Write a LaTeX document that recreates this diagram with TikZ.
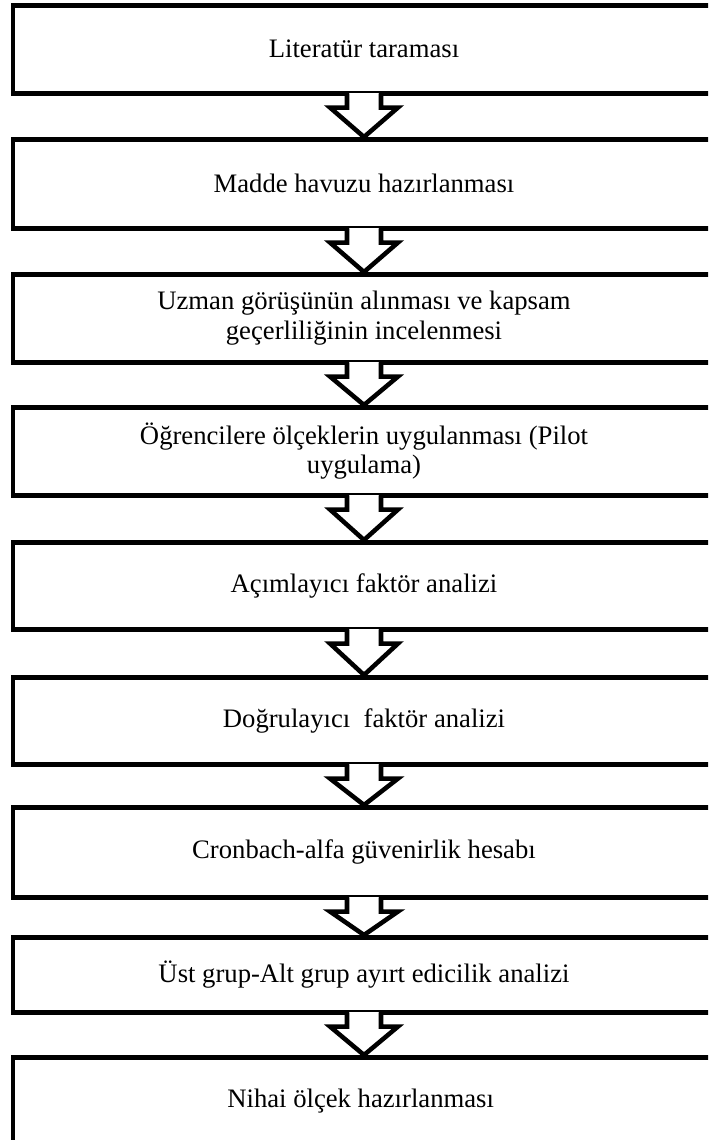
\documentclass[tikz,border=0pt]{standalone}
\usepackage{fontspec}
\setmainfont{Liberation Serif}
\usetikzlibrary{calc}

\tikzset{
  box/.style={draw, line width=3.4pt, minimum width=526.5pt, align=center,
    inner sep=0pt, font=\fontsize{20}{22}\selectfont},
  arrowline/.style={line width=3.4pt}
}

\begin{document}
\begin{tikzpicture}[x=0.75pt,y=0.75pt]
    \clip (0,0) rectangle (708,-1140);
    \foreach \nm/\ytop/\hgt/\lab in {
      lit/3/88/{Literatür taraması},
      madde/137/89/{Madde havuzu hazırlanması},
      uzman/272/88/{Uzman görüşünün alınması ve kapsam\\geçerliliğinin incelenmesi},
      pilot/405/88/{Öğrencilere ölçeklerin uygulanması (Pilot\\uygulama)},
      afa/540/87/{Açımlayıcı faktör analizi},
      dfa/675/87/{Doğrulayıcı\ \ faktör analizi},
      cronbach/805/90/{Cronbach-alfa güvenirlik hesabı},
      ayirt/935/75/{Üst grup-Alt grup ayırt edicilik analizi},
      nihai/1055/88/{Nihai ölçek hazırlanması}
    }{
      \node[box, anchor=north, minimum height=\hgt*0.75pt] (\nm) at (364,-\ytop) {\lab};
    }
    % hollow block arrows between the boxes
    \foreach \src/\dst in {lit/madde, madde/uzman, uzman/pilot, pilot/afa,
      afa/dfa, dfa/cronbach, cronbach/ayirt, ayirt/nihai}{
      \fill[white] ($(\src.south)+(-15,3)$) rectangle ($(\src.south)+(15,-12)$);
      \draw[arrowline] ($(\src.south)+(-17,2.25)$) -- ++(0,-14.25) -- ++(-17,0)
        -- (\dst.north) -- ($(\src.south)+(34,-12)$) -- ++(-17,0) -- ++(0,14.25);
    }
\end{tikzpicture}
\end{document}
